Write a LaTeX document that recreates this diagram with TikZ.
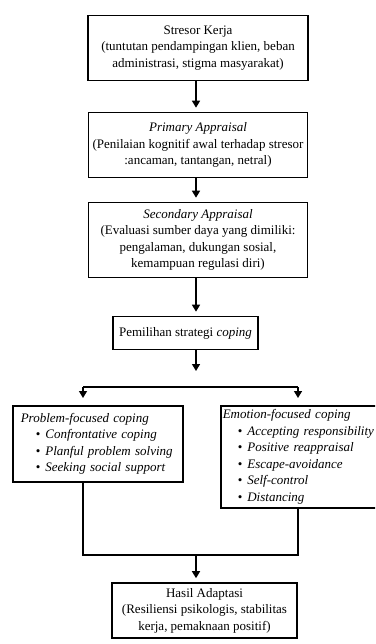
\documentclass[tikz,border=0pt]{standalone}
\usepackage{fontspec}
\setmainfont{Liberation Serif}
\usetikzlibrary{arrows.meta}
\begin{document}
\begin{tikzpicture}[x=1pt,y=-1pt,
  box/.style={draw, line width=1.6pt, align=center, inner sep=0pt,
    font=\fontsize{13}{16.5}\selectfont},
  listbox/.style={draw, line width=1.6pt, align=left, inner ysep=2pt, inner xsep=8pt,
    anchor=north west, font=\fontsize{13}{16.6}\selectfont},
  arr/.style={-{Triangle[length=7pt,width=8pt]}, line width=1.4pt, shorten >=4pt},
  ln/.style={line width=1.4pt}]
\clip (0,0) rectangle (375,644);
\fill[white] (0,0) rectangle (375,644);
% main boxes
\node[box, minimum width=220, minimum height=65] (b1) at (198,48)
  {Stresor Kerja\\(tuntutan pendampingan klien, beban\\administrasi, stigma masyarakat)};
\node[box, minimum width=219, minimum height=65] (b2) at (198,145)
  {\textit{Primary Appraisal}\\(Penilaian kognitif awal terhadap stresor\\:ancaman, tantangan, netral)};
\node[box, minimum width=219, minimum height=75] (b3) at (198,240)
  {\textit{Secondary Appraisal}\\(Evaluasi sumber daya yang dimiliki:\\pengalaman, dukungan sosial,\\kemampuan regulasi diri)};
\node[box, minimum width=145, minimum height=33] (b4) at (185.5,333)
  {Pemilihan strategi \textit{coping}};
% coping boxes
\node[listbox, text width=154, minimum height=76] (pf) at (12,405)
  {\textit{Problem-focused coping}\\
   \hspace*{15pt}\textbullet\hspace{5pt}\textit{Confrontative coping}\\
   \hspace*{15pt}\textbullet\hspace{5pt}\textit{Planful problem solving}\\
   \hspace*{15pt}\textbullet\hspace{5pt}\textit{Seeking social support}};
\node[listbox, inner xsep=2pt, text width=176, minimum height=102] (ef) at (220,405)
  {\textit{Emotion-focused coping}\\
   \hspace*{15pt}\textbullet\hspace{5pt}\textit{Accepting responsibility}\\
   \hspace*{15pt}\textbullet\hspace{5pt}\textit{Positive reappraisal}\\
   \hspace*{15pt}\textbullet\hspace{5pt}\textit{Escape-avoidance}\\
   \hspace*{15pt}\textbullet\hspace{5pt}\textit{Self-control}\\
   \hspace*{15pt}\textbullet\hspace{5pt}\textit{Distancing}};
% result box
\node[box, minimum width=185, minimum height=55] (ha) at (204.5,610.5)
  {Hasil Adaptasi\\(Resiliensi psikologis, stabilitas\\kerja, pemaknaan positif)};
% connector coordinates
\coordinate (ax) at (196,0);
\coordinate (t4) at (196,375);
\coordinate (hl) at (83,387);
\coordinate (hr) at (298,387);
\coordinate (tl) at (83,402);
\coordinate (tr) at (298,402);
\coordinate (bl) at (83,555);
\coordinate (br) at (298,555);
\coordinate (bm) at (196,555);
% connectors
\draw[arr] (b1.south -| ax) -- (b2.north -| ax);
\draw[arr] (b2.south -| ax) -- (b3.north -| ax);
\draw[arr] (b3.south -| ax) -- (b4.north -| ax);
\draw[arr] (b4.south -| ax) -- (t4);
\draw[ln] (hl) -- (hr);
\draw[arr] (hl) -- (tl);
\draw[arr] (hr) -- (tr);
\draw[ln] (pf.south -| bl) -- (bl) -- (br) -- (ef.south -| br);
\draw[arr] (bm) -- (ha.north -| bm);
\end{tikzpicture}
\end{document}
